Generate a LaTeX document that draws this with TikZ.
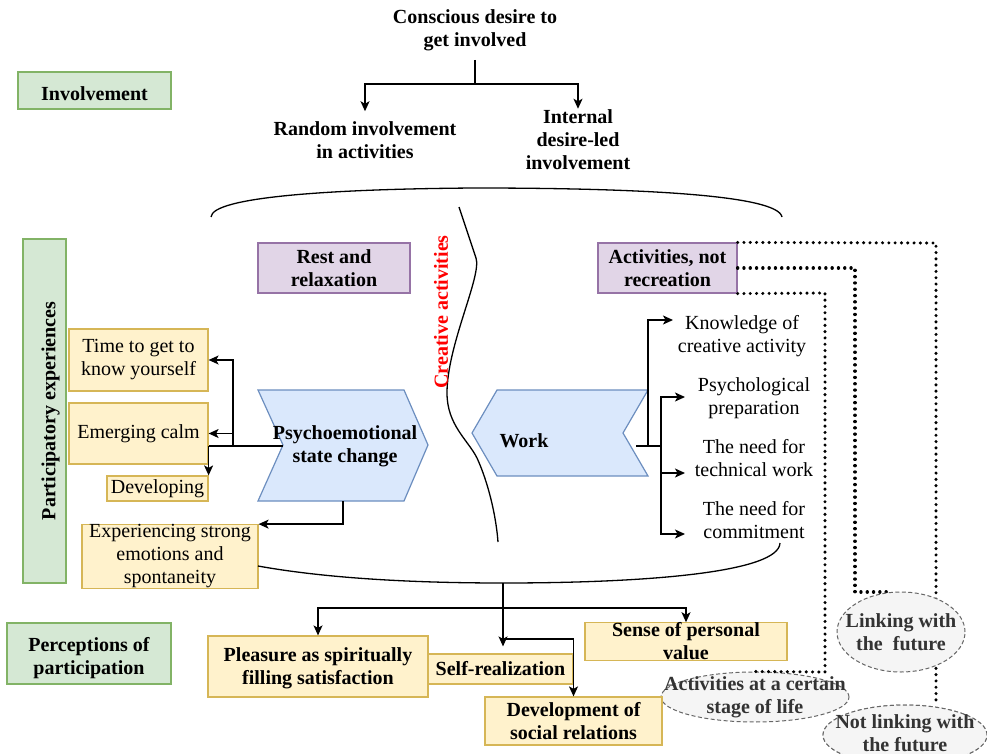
\documentclass[tikz,border=0pt]{standalone}
\usepackage{fontspec}
\setmainfont{Liberation Serif}
\usetikzlibrary{arrows.meta,shapes.geometric}
\definecolor{gfill}{HTML}{D5E8D4}
\definecolor{gstroke}{HTML}{82B366}
\definecolor{pfill}{HTML}{E1D5E7}
\definecolor{pstroke}{HTML}{9673A6}
\definecolor{yfill}{HTML}{FFF2CC}
\definecolor{ystroke}{HTML}{D6B656}
\definecolor{bfill}{HTML}{DAE8FC}
\definecolor{bstroke}{HTML}{6C8EBF}
\definecolor{efill}{HTML}{F5F5F5}
\definecolor{estroke}{HTML}{666666}
\definecolor{etext}{HTML}{333333}
\begin{document}
\begin{tikzpicture}[x=1pt,y=-1pt,
  every node/.style={font=\fontsize{20}{23}\selectfont, align=center, inner sep=0pt},
  bold/.style={font=\fontsize{20}{23}\selectfont\bfseries},
  ln/.style={line width=1.3pt, draw=black},
  arr/.style={ln, -{Stealth[length=10pt,width=9pt,inset=2.5pt]}},
  dotl/.style={line width=3.3pt, line cap=round, dash pattern=on 0.1pt off 6.2pt, draw=black},
  gbox/.style={draw=gstroke, fill=gfill, line width=1.2pt, bold},
  pbox/.style={draw=pstroke, fill=pfill, line width=1.2pt, bold},
  ybox/.style={draw=ystroke, fill=yfill, line width=1.2pt},
  yboxb/.style={ybox, bold},
  bshape/.style={draw=bstroke, fill=bfill, line width=1.2pt},
  gell/.style={ellipse, draw=estroke, fill=efill, dash pattern=on 4pt off 2.5pt, line width=1pt},
  etxt/.style={bold, text=etext}
]
\useasboundingbox (0,0) rectangle (987,754);
\clip (0,0) rectangle (987,754);

% ---------- top section ----------
\node[bold, inner ysep=9pt] (consc) at (475,30) {Conscious desire to\\get involved};
\node[bold, inner ysep=10pt] (rand) at (365,140) {Random involvement\\in activities};
\node[bold, inner ysep=1pt] (intern) at (578,140) {Internal\\desire-led\\involvement};
\coordinate (j1) at (475,84);
\draw[ln] (consc.south) -- (j1);
\draw[arr] (j1) -| (rand.north);
\draw[arr] (j1) -| (intern.north);

\node[gbox, minimum width=153pt, minimum height=37pt] (invol) at (94.5,90.5) {};
\node[bold] at ([yshift=-3pt]invol.center) {Involvement};

% big top curve
\draw[ln] (211,217) .. controls (212,197) and (330,189) .. (475,188)
  .. controls (640,188) and (778,195) .. (782,217);

% wavy divider
\draw[ln] (459,207) -- (476,258) .. controls (482,276) and (447,345) .. (447,393)
  .. controls (447,425) and (468,440) .. (477,458) .. controls (488,482) and (496,515) .. (498,542);
\node[bold, text=red, rotate=90] (cre) at (441,312) {Creative activities};

% ---------- left column ----------
\node[gbox, minimum width=43pt, minimum height=344pt] (pe) at (44.5,411) {};
\node[bold, rotate=90] at ([xshift=6pt]pe.center) {Participatory experiences};
\node[gbox, minimum width=164pt, minimum height=61pt] (percep) at (89,653.5) {};
\node[bold] at ([yshift=-5pt]percep.center) {Perceptions of\\participation};

\node[pbox, minimum width=152pt, minimum height=50pt] (rest) at (334,268) {Rest and\\relaxation};
\node[pbox, minimum width=139pt, minimum height=50pt] (act) at (667.5,268) {Activities, not\\recreation};

\node[ybox, minimum width=139pt, minimum height=62pt] (time) at (138.5,360) {Time to get to\\know yourself};
\node[ybox, minimum width=139pt, minimum height=61pt] (calm) at (138.5,433.5) {Emerging calm};
\node[ybox, minimum width=101pt, minimum height=25pt] (dev) at (157.5,488.5) {Developing};
\node[ybox, minimum width=176pt, minimum height=61pt] (exp) at (170,556.5) {Experiencing strong\\emotions and\\spontaneity};

% psychoemotional shape
\draw[bshape] (258,390) -- (404,390) -- (428,445) -- (404,501) -- (258,501) -- (283,445) -- cycle;
\node[bold] (psy) at (345,446) {Psychoemotional\\state change};
\coordinate (psyN) at (283,446);
\coordinate (psyS) at (343,501);
\coordinate (b1) at (233,446);
\draw[ln] (psyN) -- (calm.east |- psyN);
\draw[arr] (calm.east |- psyN) -- (dev.north east);
\draw[arr] (b1) |- (time.east);
\draw[arr] (b1 |- calm.east) -- (calm.east);
\draw[arr] (psyS) |- (exp.north east);

% work shape
\draw[bshape] (472,433) -- (497,390) -- (648,390) -- (623,433) -- (648,476) -- (497,476) -- cycle;
\node[bold] (work) at (524,441) {Work};
\coordinate (wN) at (636,446);
\coordinate (wA) at (648,446);
\coordinate (wJ) at (661,446);
\coordinate (kT) at (673,320);
\coordinate (pT) at (685,397);
\coordinate (tT) at (685,473);
\coordinate (cT) at (685,534);
\draw[ln] (wN) -- (wJ);
\draw[arr] (wA) |- (kT);
\draw[arr] (wJ) |- (pT);
\draw[arr] (wJ) |- (tT);
\draw[arr] (wJ) |- (cT);
\node (know) at (742,336) {Knowledge of\\creative activity};
\node (psyprep) at (754,398) {Psychological\\preparation};
\node (tech) at (754,458) {The need for\\technical work};
\node (commit) at (754,520) {The need for\\commitment};

% bottom curve
\draw[ln] (258,566) .. controls (330,579) and (420,583) .. (503,583)
  .. controls (650,583) and (779,572) .. (780,543);

% ---------- dotted connectors ----------
\coordinate (d1) at (936,243);
\coordinate (d2) at (855,268);
\coordinate (d2b) at (855,592);
\coordinate (d2c) at (890,592);
\coordinate (d3) at (825,293);
\coordinate (d3b) at (825,672);
\node[gell, minimum width=164pt, minimum height=60pt] (notl) at (905,735) {};
\draw[dotl] (act.north east) -- (d1) -- (d1 |- notl.north);
\draw[dotl] (act.east) -- (d2) -- (d2b) -- (d2c);
\node[gell, minimum width=188pt, minimum height=50pt] (stage) at (755,697) {};
\draw[dotl] (act.south east) -- (d3) -- (d3b) -- (stage.north);
\node[gell, minimum width=128pt, minimum height=80pt] (link) at (901,632) {};
\node[gell, minimum width=164pt, minimum height=60pt] (notl2) at (905,735) {};
\node[etxt] at (link) {Linking with\\the\ \ future};
\node[etxt] at (stage) {Activities at a certain\\stage of life};
\node[etxt] at ([yshift=2pt]notl2) {Not linking with\\the future};

% ---------- bottom section ----------
\node[yboxb, minimum width=220pt, minimum height=61pt] (pleas) at (318,666.5) {};
\node[bold] at ([yshift=-2pt]pleas.center) {Pleasure as spiritually\\filling satisfaction};
\node[yboxb, minimum width=145pt, minimum height=30pt] (selfr) at (500.5,669) {Self-realization};
\node[yboxb, minimum width=202pt, minimum height=37pt] (sense) at (686,641.5) {Sense of personal\\value};
\node[yboxb, minimum width=177pt, minimum height=48pt] (devs) at (573.5,721) {Development of\\social relations};

\coordinate (bj) at (503,583);
\coordinate (bh) at (503,608);
\coordinate (bk) at (503,639);
\draw[arr, shorten >=7pt] (bj) -- (bj |- selfr.north);
\draw[arr] (bh) -| (pleas.north);
\draw[arr] (bh) -| (sense.north);
\draw[arr] (bk) -| (devs.north);
\end{tikzpicture}
\end{document}
